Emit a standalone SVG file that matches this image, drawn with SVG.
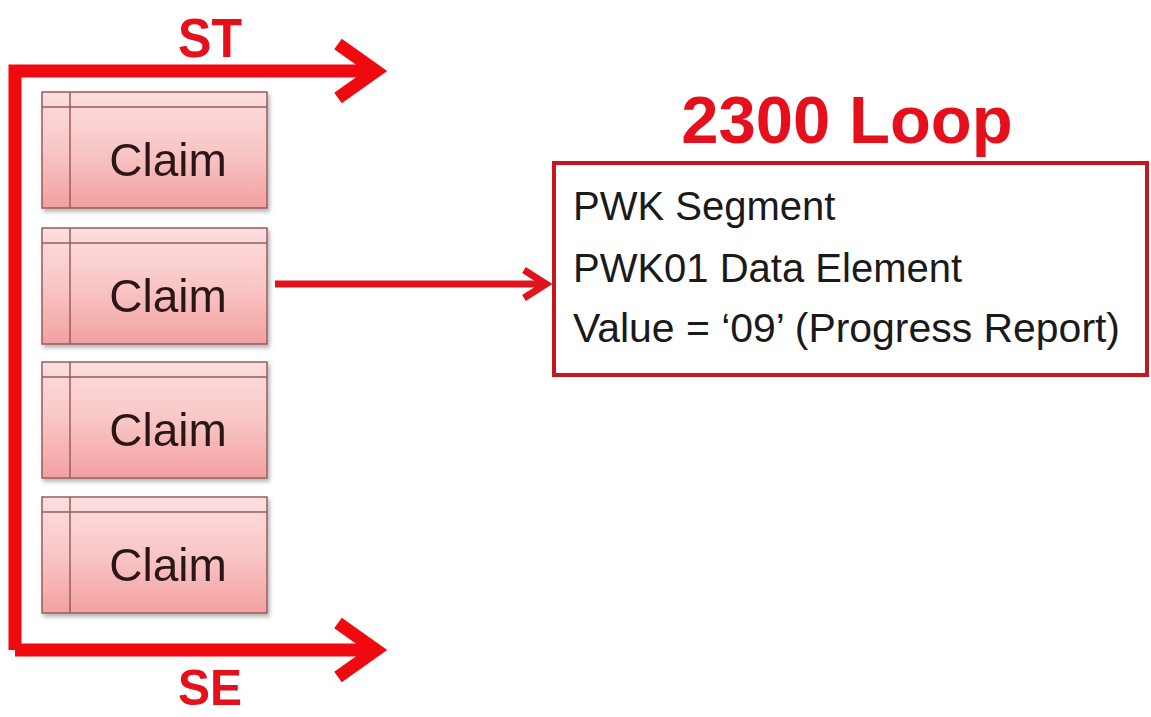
<svg xmlns="http://www.w3.org/2000/svg" width="1151" height="717" viewBox="0 0 1151 717">
  <defs>
    <linearGradient id="claimFill" x1="0" y1="0" x2="0" y2="1">
      <stop offset="0" stop-color="#fcdede"/>
      <stop offset="0.5" stop-color="#f9c6c6"/>
      <stop offset="1" stop-color="#f3a0a0"/>
    </linearGradient>
    <filter id="shadow" x="-10%" y="-10%" width="130%" height="130%">
      <feDropShadow dx="2" dy="3" stdDeviation="2" flood-color="#000" flood-opacity="0.3"/>
    </filter>
  </defs>
  <style>
    .claim-box { fill: url(#claimFill); stroke: #9a5c5c; stroke-width: 1.5; }
    .claim-line { stroke: #9a5c5c; stroke-width: 1.5; fill: none; }
    .claim-text { font-family: "Liberation Sans", Arial, sans-serif; font-size: 46px; fill: #2a1616; text-anchor: middle; }
    .big { font-family: "Liberation Sans", Arial, sans-serif; font-weight: bold; fill: #e5101c; text-anchor: middle; }
    .thick { stroke: #ee0a0f; stroke-width: 13; fill: none; stroke-linejoin: miter; }
    .conn { stroke: #e0141e; stroke-width: 7; fill: none; stroke-linejoin: miter; }
    .info { font-family: "Liberation Sans", Arial, sans-serif; font-size: 40px; fill: #1a1a1a; }
  </style>
  <rect width="1151" height="717" fill="#ffffff"/>

  <g id="connectors">
    <path class="thick" d="M 15 650 V 71 H 372"/>
    <path class="thick" d="M 338 44 L 376 71 L 338 98"/>
    <path class="thick" d="M 15 650 H 372"/>
    <path class="thick" d="M 338 623 L 376 650 L 338 677"/>
    <path class="conn" d="M 275 284 H 546"/>
    <path class="conn" d="M 524 270 L 546 284 L 524 298"/>
  </g>

  <g id="st-label">
    <text class="big" x="210" y="57" font-size="56" textLength="64" lengthAdjust="spacingAndGlyphs">ST</text>
  </g>
  <g id="se-label">
    <text class="big" x="210" y="705" font-size="50" textLength="64" lengthAdjust="spacingAndGlyphs">SE</text>
  </g>

  <g id="claim1" filter="url(#shadow)">
    <rect class="claim-box" x="42" y="92" width="225" height="116"/>
    <path class="claim-line" d="M 42 107 H 267 M 70 92 V 208"/>
    <text class="claim-text" x="168" y="176">Claim</text>
  </g>
  <g id="claim2" filter="url(#shadow)">
    <rect class="claim-box" x="42" y="228" width="225" height="116"/>
    <path class="claim-line" d="M 42 243 H 267 M 70 228 V 344"/>
    <text class="claim-text" x="168" y="312">Claim</text>
  </g>
  <g id="claim3" filter="url(#shadow)">
    <rect class="claim-box" x="42" y="362" width="225" height="116"/>
    <path class="claim-line" d="M 42 377 H 267 M 70 362 V 478"/>
    <text class="claim-text" x="168" y="446">Claim</text>
  </g>
  <g id="claim4" filter="url(#shadow)">
    <rect class="claim-box" x="42" y="497" width="225" height="116"/>
    <path class="claim-line" d="M 42 512 H 267 M 70 497 V 613"/>
    <text class="claim-text" x="168" y="581">Claim</text>
  </g>

  <g id="loop-title">
    <text class="big" x="847" y="143" font-size="67">2300 Loop</text>
  </g>

  <g id="loop-box">
    <rect x="554" y="163" width="593" height="212" fill="#ffffff" stroke="#c8161e" stroke-width="4"/>
    <text class="info" x="573" y="220">PWK Segment</text>
    <text class="info" x="573" y="282">PWK01 Data Element</text>
    <text class="info" x="573" y="342" textLength="547" lengthAdjust="spacingAndGlyphs">Value = ‘09’ (Progress Report)</text>
  </g>
</svg>
